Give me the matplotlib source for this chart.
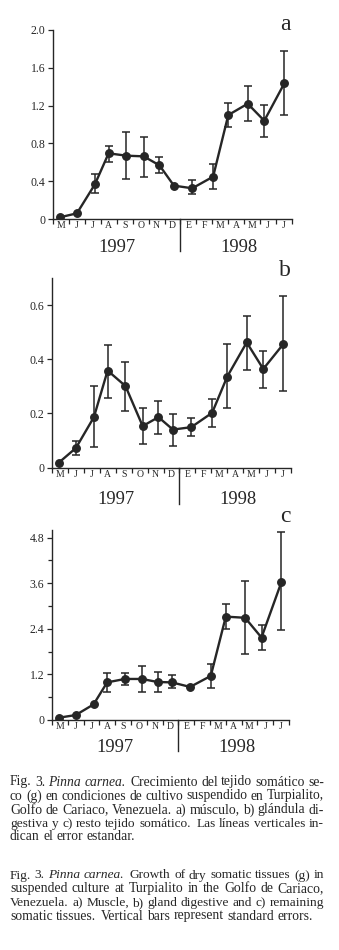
import numpy as np
import matplotlib
matplotlib.use('Agg')
import matplotlib.pyplot as plt
from matplotlib.ticker import FixedLocator, NullLocator, FixedFormatter, NullFormatter

# ---------------- data ----------------
months = ['M', 'J', 'J', 'A', 'S', 'O', 'N', 'D', 'E', 'F', 'M', 'A', 'M', 'J', 'J']
years = ['1997', '1998']
# sampling dates in month units (0 = May 1997)
sample_pos = [-0.07, 1.0, 2.13, 2.99, 4.11, 5.19, 6.18, 7.09, 8.24, 9.55, 10.5, 11.72, 12.76, 14.02]

nan = np.nan
# a) músculo
musculo = [0.018, 0.06, 0.367, 0.695, 0.67, 0.663, 0.568, 0.353, 0.325, 0.448, 1.10, 1.22, 1.04, 1.436]
musculo_hi = [nan, nan, 0.473, 0.77, 0.924, 0.871, 0.656, nan, 0.413, 0.578, 1.231, 1.407, 1.206, 1.781]
musculo_lo = [nan, nan, 0.279, 0.607, 0.423, 0.448, 0.49, nan, 0.261, 0.314, 0.977, 1.04, 0.871, 1.10]
# b) glándula digestiva
glandula = [0.018, 0.072, 0.186, 0.358, 0.301, 0.153, 0.186, 0.14, 0.149, 0.202, 0.336, 0.462, 0.364, 0.456]
glandula_hi = [nan, 0.098, 0.302, 0.454, 0.389, 0.22, 0.245, 0.198, 0.182, 0.252, 0.458, 0.561, 0.43, 0.634]
glandula_lo = [nan, 0.045, 0.076, 0.258, 0.208, 0.088, 0.122, 0.080, 0.115, 0.149, 0.218, 0.36, 0.293, 0.282]
# c) resto tejido somático
resto = [0.06, 0.13, 0.41, 0.99, 1.08, 1.08, 1.0, 0.99, 0.87, 1.16, 2.72, 2.69, 2.17, 3.63]
resto_hi = [nan, nan, nan, 1.23, 1.23, 1.43, 1.27, 1.18, nan, 1.47, 3.04, 3.65, 2.5, 4.95]
resto_lo = [nan, nan, nan, 0.74, 0.93, 0.74, 0.74, 0.835, nan, 0.835, 2.4, 1.74, 1.83, 2.36]

yticks_a = [0, 0.4, 0.8, 1.2, 1.6, 2.0]
yticklabels_a = ['0', '0.4', '0.8', '1.2', '1.6', '2.0']
yticks_b = [0, 0.2, 0.4, 0.6]
yticklabels_b = ['0', '0.2', '0.4', '0.6']
yticks_c = [0, 1.2, 2.4, 3.6, 4.8]
yticklabels_c = ['0', '1.2', '2.4', '3.6', '4.8']
yminor_c = [0.6, 1.8, 3.0, 4.2]

caption_es = [
    "Fig. 3. *Pinna *carnea.  Crecimiento del tejido somático se-",
    "co (g) en condiciones de cultivo suspendido en Turpialito,",
    "Golfo de Cariaco, Venezuela. a) músculo, b) glándula di-",
    "gestiva y c) resto tejido somático.  Las líneas verticales in-",
    "dican el error estandar.",
]
caption_en = [
    "Fig. 3. *Pinna *carnea.  Growth of dry somatic tissues (g) in",
    "suspended culture at Turpialito in the Golfo de Cariaco,",
    "Venezuela. a) Muscle, b) gland digestive and c) remaining",
    "somatic tissues.  Vertical bars represent standard errors.",
]

# ---------------- figure ----------------
W, H = 339, 950
fig = plt.figure(figsize=(W / 100, H / 100), dpi=100)
fig.patch.set_facecolor('white')
SERIF = ['Liberation Serif', 'DejaVu Serif']
INK = '#262626'


def px_axes(left, top, w, h):
    return fig.add_axes([left / W, 1 - (top + h) / H, w / W, h / H])


def panel(left, top, w, h, y, lo, hi, ylim, yticks, yticklabels, letter,
          yminor=None, year_off=28, letter_y=None):
    ax = px_axes(left, top, w, h)
    ax.set_xlim(-0.5, 14.5)
    ax.set_ylim(0, ylim)
    for s in ['top', 'right']:
        ax.spines[s].set_visible(False)
    for s in ['left', 'bottom']:
        ax.spines[s].set_color(INK)
        ax.spines[s].set_linewidth(1.0)
    x = np.array(sample_pos)
    y = np.array(y)
    lo = np.array(lo)
    hi = np.array(hi)
    m = ~np.isnan(lo)
    ax.errorbar(x[m], y[m], yerr=[y[m] - lo[m], hi[m] - y[m]], fmt='none',
                ecolor=INK, elinewidth=1.1, capsize=2.6, capthick=1.1, zorder=2)
    ax.plot(x, y, '-o', color=INK, lw=1.7, ms=5.4, mfc=INK, mec=INK, zorder=3)
    # x ticks: marks at month boundaries, labels at month centres
    ax.xaxis.set_major_locator(FixedLocator(np.arange(-0.5, 15, 1.0)))
    ax.xaxis.set_major_formatter(NullFormatter())
    ax.xaxis.set_minor_locator(FixedLocator(np.arange(0, 15, 1.0)))
    ax.xaxis.set_minor_formatter(FixedFormatter(months))
    ax.tick_params(axis='x', which='major', direction='out', length=3.5, width=0.9, color=INK)
    ax.tick_params(axis='x', which='minor', length=0, pad=1.5, labelsize=7, labelcolor=INK)
    for lab in ax.get_xticklabels(minor=True):
        lab.set_family(SERIF)
    ax.yaxis.set_major_locator(FixedLocator(yticks))
    ax.yaxis.set_major_formatter(FixedFormatter(yticklabels))
    if yminor:
        ax.yaxis.set_minor_locator(FixedLocator(yminor))
        ax.tick_params(axis='y', which='minor', direction='out', length=3, width=0.9, color=INK)
    else:
        ax.yaxis.set_minor_locator(NullLocator())
    ax.tick_params(axis='y', which='major', direction='out', length=3.5, width=0.9,
                   color=INK, pad=2, labelsize=8.5, labelcolor=INK)
    for lab in ax.get_yticklabels():
        lab.set_family(SERIF)
    # year divider and labels
    y0 = top + h
    xdiv = (left + w * (8.0 / 15)) / W
    fig.add_artist(plt.Line2D([xdiv, xdiv],
                              [1 - y0 / H, 1 - (y0 + year_off + 4) / H],
                              color=INK, lw=1.0))
    ax.text(3.5, -year_off / h, years[0], transform=ax.get_xaxis_transform(),
            ha='center', va='center', fontsize=13.3, family=SERIF, color=INK)
    ax.text(11.2, -year_off / h, years[1], transform=ax.get_xaxis_transform(),
            ha='center', va='center', fontsize=13.3, family=SERIF, color=INK)
    fig.text(285 / W, 1 - letter_y / H, letter, ha='center', va='center',
             fontsize=17, family=SERIF, color=INK)
    return ax


panel(53, 30, 239, 189, musculo, musculo_lo, musculo_hi, 2.0, yticks_a, yticklabels_a,
      'a', year_off=28, letter_y=24)
panel(52, 278, 239, 189.5, glandula, glandula_lo, glandula_hi, 0.7, yticks_b, yticklabels_b,
      'b', year_off=32, letter_y=271)
panel(52, 530, 237, 190, resto, resto_lo, resto_hi, 5.0, yticks_c, yticklabels_c,
      'c', yminor=yminor_c, year_off=27, letter_y=516)

# ---------------- captions (justified) ----------------
renderer = fig.canvas.get_renderer()
X0, X1 = 10, 324


def tokens(line):
    words, gaps, pending = [], [], 0
    for tok in line.split(' '):
        if tok == '':
            pending += 1
            continue
        if words:
            gaps.append(1 + 0.5 * pending)
        pending = 0
        words.append(tok)
    return words, gaps


def make_texts(words, size):
    out = []
    for wd in words:
        ital = wd.startswith('*')
        t = fig.text(0, 0, wd.lstrip('*'), fontsize=size, family=SERIF, color=INK,
                     style='italic' if ital else 'normal', ha='left', va='baseline')
        out.append(t)
    return out


def natural_width(line, size):
    words, gaps = tokens(line)
    ts = make_texts(words, size)
    wsum = sum(t.get_window_extent(renderer).width for t in ts)
    for t in ts:
        t.remove()
    return wsum + sum(gaps) * size * 100 / 72 * 0.25


ref = 10.0
justified = caption_es[:-1] + caption_en[:-1]
fits = [ref * (X1 - X0 - 1) / natural_width(l, ref) for l in justified]
BASE = min(fits)
MAXSIZE = min(BASE * 1.05, 9.9)


def caption_line(line, y_center, justify=True):
    words, gaps = tokens(line)
    if justify:
        size = min(ref * (X1 - X0 - 1) / natural_width(line, ref), MAXSIZE)
    else:
        size = (BASE + MAXSIZE) / 2
    texts = make_texts(words, size)
    widths = [t.get_window_extent(renderer).width for t in texts]
    total = sum(widths)
    space = size * 100 / 72 * 0.25
    if justify and gaps:
        unit = (X1 - X0 - total) / sum(gaps)
    else:
        unit = space
    x = X0
    base = y_center + 3.5
    for i, t in enumerate(texts):
        t.set_position((x / W, 1 - base / H))
        x += widths[i]
        if i < len(gaps):
            x += unit * gaps[i]


es_y = [782, 796, 810, 823.5, 837]
for i, line in enumerate(caption_es):
    caption_line(line, es_y[i], justify=(i < len(caption_es) - 1))
en_y = [875, 888.5, 902.5, 916]
for i, line in enumerate(caption_en):
    caption_line(line, en_y[i], justify=(i < len(caption_en) - 1))

fig.savefig('out.png', dpi=100, facecolor='white')
